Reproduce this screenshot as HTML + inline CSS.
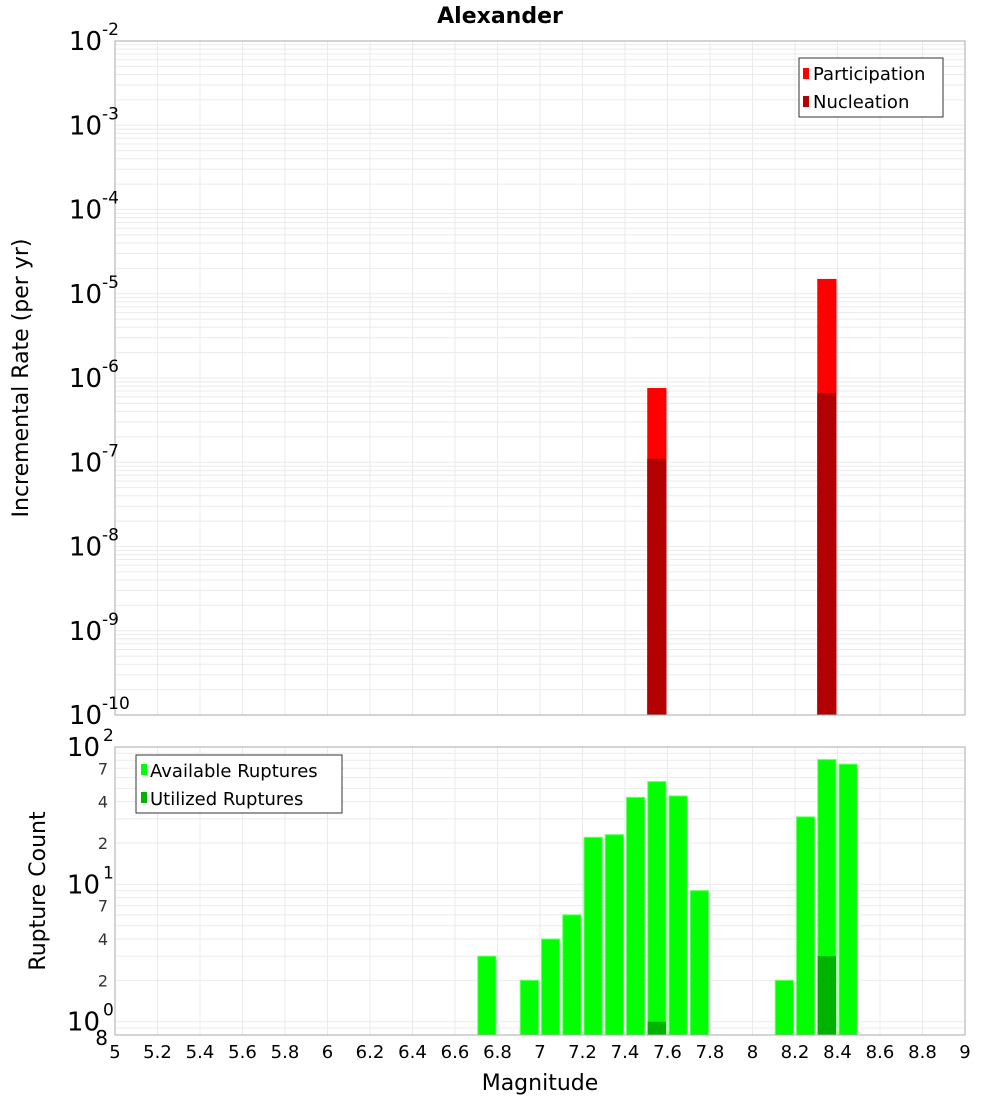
<!DOCTYPE html>
<html><head><meta charset="utf-8"><style>
body{margin:0;background:#fff;}
svg text{font-family:"DejaVu Sans","Liberation Sans",sans-serif;}
</style></head><body>
<svg id="c" width="1000" height="1100" xmlns="http://www.w3.org/2000/svg"></svg>
<script>
// ---- data ----
const topBins = [7.55, 8.35];
const participation = [7.6e-7, 1.5e-5];
const nucleation = [1.1e-7, 6.6e-7];
const botBins = [6.75, 6.95, 7.05, 7.15, 7.25, 7.35, 7.45, 7.55, 7.65, 7.75, 8.15, 8.25, 8.35, 8.45];
const available = [3, 2, 4, 6, 22, 23, 43, 56, 44, 9, 2, 31, 81, 75];
const utilBins = [7.55, 8.35];
const utilized = [1, 3];
const xTicks = [5,5.2,5.4,5.6,5.8,6,6.2,6.4,6.6,6.8,7,7.2,7.4,7.6,7.8,8,8.2,8.4,8.6,8.8,9];
const topExps = [-10,-9,-8,-7,-6,-5,-4,-3,-2];
const botExps = [0,1,2];

const svg = document.getElementById('c');
const NS = 'http://www.w3.org/2000/svg';
function mk(tag, attrs, parent, txt){
  const e = document.createElementNS(NS, tag);
  for (const k in attrs) e.setAttribute(k, attrs[k]);
  if (txt !== undefined) e.textContent = txt;
  (parent || svg).appendChild(e);
  return e;
}
const L = 115, R = 965;
const X = m => L + (m - 5) / 4 * (R - L);
const T1 = 41, B1 = 715;
const Y1 = v => B1 - (Math.log10(v) + 10) / 8 * (B1 - T1);
const T2 = 747, B2 = 1035, lmin = Math.log10(0.8);
const Y2 = v => B2 - (Math.log10(v) - lmin) / (2 - lmin) * (B2 - T2);
const bw = 0.1;

// ---- title ----
const title = mk('text', {x: 500, y: 23, 'text-anchor': 'middle', 'font-size': 22, 'font-weight': 'bold'}, svg, 'Alexander');



function grid(g, T, B, Y, exps, minV){
  xTicks.forEach(t => {
    const l = mk('line', {x1: X(t), x2: X(t), y1: T, y2: B, stroke: '#ebebeb', 'stroke-width': 1}, g);
    
    
  });
  for (let i = 0; i < exps.length; i++) {
    const e = exps[i];
    for (let k = 1; k <= 9; k++) {
      const v = k * Math.pow(10, e - 1);
      if (v < minV || v > Math.pow(10, exps[exps.length-1])) continue;
      const l = mk('line', {x1: L, x2: R, y1: Y(v), y2: Y(v), stroke: '#ebebeb', 'stroke-width': 1}, g);
      
      
    }
  }
  // extra minor lines in the last decade below first exponent
}

// ---- top panel ----
const g1 = mk('g', {});


grid(g1, T1, B1, Y1, [-9,-8,-7,-6,-5,-4,-3,-2], 1e-10);
topBins.forEach((m, i) => {
  const p = mk('rect', {x: X(m - bw/2) + 1, y: Y1(participation[i]), width: X(m + bw/2) - X(m - bw/2) - 2, height: B1 - Y1(participation[i]), fill: '#ff0000'}, g1);
  
  
  const n = mk('rect', {x: X(m - bw/2) + 1, y: Y1(nucleation[i]), width: X(m + bw/2) - X(m - bw/2) - 2, height: B1 - Y1(nucleation[i]), fill: '#b30000'}, g1);
  
  
});
const f1 = mk('rect', {x: L, y: T1, width: R - L, height: B1 - T1, fill: 'none', stroke: '#aaaaaa'}, g1);


topExps.forEach(e => {
  const t = mk('text', {x: 102, y: Y1(Math.pow(10, e)) + 9, 'text-anchor': 'end', 'font-size': 26}, g1, '10');
  
  
  const s = mk('text', {x: 102, y: Y1(Math.pow(10, e)) - 6, 'font-size': 17}, g1, String(e));
  
  
});
const yt1 = mk('text', {x: 28, y: 378, 'text-anchor': 'middle', 'font-size': 22, transform: 'rotate(-90 28 378)'}, g1, 'Incremental Rate (per yr)');


// legend
const lg1 = mk('g', {});


mk('rect', {x: 799, y: 58, width: 144, height: 59, fill: '#fff', stroke: '#333'}, lg1);
mk('rect', {x: 803, y: 68, width: 6, height: 11, fill: '#ff0000'}, lg1);
mk('text', {x: 813, y: 80, 'font-size': 18}, lg1, 'Participation');
mk('rect', {x: 803, y: 96, width: 6, height: 11, fill: '#b30000'}, lg1);
mk('text', {x: 813, y: 108, 'font-size': 18}, lg1, 'Nucleation');

// ---- bottom panel ----
const g2 = mk('g', {});


grid(g2, T2, B2, Y2, [0,1,2], 0.8);
botBins.forEach((m, i) => {
  const r = mk('rect', {x: X(m - bw/2) + 1.5, y: Y2(available[i]), width: X(m + bw/2) - X(m - bw/2) - 3, height: B2 - Y2(available[i]), fill: '#00ff00', stroke: '#66ff66', 'stroke-width': 1}, g2);
  
  
});
utilBins.forEach((m, i) => {
  const r = mk('rect', {x: X(m - bw/2) + 1.5, y: Y2(utilized[i]), width: X(m + bw/2) - X(m - bw/2) - 3, height: B2 - Y2(utilized[i]), fill: '#00b300'}, g2);
  
  
});
const f2 = mk('rect', {x: L, y: T2, width: R - L, height: B2 - T2, fill: 'none', stroke: '#aaaaaa'}, g2);


botExps.forEach(e => {
  const t = mk('text', {x: 100, y: Y2(Math.pow(10, e)) + 9, 'text-anchor': 'end', 'font-size': 26}, g2, '10');
  
  
  const s = mk('text', {x: 103, y: Y2(Math.pow(10, e)) - 6, 'font-size': 17}, g2, String(e));
  
  
});
[[2,0],[4,0],[7,0],[2,1],[4,1],[7,1]].forEach(([k,e]) => {
  const t = mk('text', {x: 108, y: Y2(k * Math.pow(10, e)) + 6, 'text-anchor': 'end', 'font-size': 16, fill: '#333'}, g2, String(k));
  
  
});
const t8 = mk('text', {x: 108, y: Y2(0.8) + 10, 'text-anchor': 'end', 'font-size': 20}, g2, '8');


const yt2 = mk('text', {x: 45, y: 891, 'text-anchor': 'middle', 'font-size': 22, transform: 'rotate(-90 45 891)'}, g2, 'Rupture Count');


xTicks.forEach(t => {
  const s = mk('text', {x: X(t), y: 1058, 'text-anchor': 'middle', 'font-size': 18}, g2, String(t));
  
  
});
const xt = mk('text', {x: 540, y: 1090, 'text-anchor': 'middle', 'font-size': 22}, g2, 'Magnitude');


const lg2 = mk('g', {});


mk('rect', {x: 136, y: 755, width: 206, height: 58, fill: '#fff', stroke: '#333'}, lg2);
mk('rect', {x: 141, y: 764, width: 6, height: 11, fill: '#00ff00'}, lg2);
mk('text', {x: 150, y: 777, 'font-size': 18}, lg2, 'Available Ruptures');
mk('rect', {x: 141, y: 792, width: 6, height: 11, fill: '#00b300'}, lg2);
mk('text', {x: 150, y: 805, 'font-size': 18}, lg2, 'Utilized Ruptures');
</script>
</body></html>
